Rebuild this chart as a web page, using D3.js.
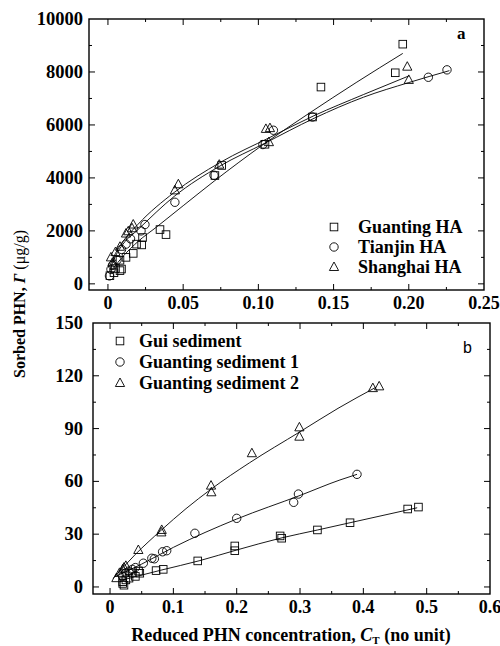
<!DOCTYPE html>
<html>
<head>
<meta charset="utf-8">
<script src="https://cdn.jsdelivr.net/npm/d3@7"></script>
<style>
  body { margin: 0; background: #fff; }
  text { font-family: "Liberation Serif", "DejaVu Serif", serif; }
</style>
</head>
<body>
<svg id="chart" width="500" height="646"></svg>
<script>
// ---- panel a : humic acids ----
var guantingHA = [[0.0013,310],[0.004,420],[0.005,580],[0.008,500],[0.009,560],[0.008,890],[0.012,1000],
                  [0.0168,1150],[0.019,1500],[0.0224,1470],[0.023,1750],[0.0346,2050],[0.0386,1860],
                  [0.0711,4090],[0.0756,4470],[0.1044,5270],[0.136,6300],[0.1416,7430],[0.191,7970],[0.196,9050]];
var tianjinHA  = [[0.001,300],[0.002,550],[0.003,700],[0.006,900],[0.009,1300],[0.012,1500],[0.015,1700],
                  [0.022,2000],[0.0246,2240],[0.0445,3080],[0.0705,4100],[0.103,5260],[0.11,5800],
                  [0.136,6300],[0.213,7800],[0.2254,8080]];
var shanghaiHA = [[0.002,1000],[0.003,800],[0.005,1200],[0.008,1400],[0.012,1900],[0.0135,1985],[0.016,2100],
                  [0.0168,2240],[0.0445,3530],[0.0468,3760],[0.074,4500],[0.105,5850],[0.1077,5880],
                  [0.107,5350],[0.199,8200],[0.2,7700]];
var guantingHAFit = [[0.003,550],[0.0102,1050],[0.02,1600],[0.0324,2150],[0.05,2950],[0.0711,3900],
                     [0.103,5250],[0.134,6450],[0.165,7600],[0.196,8700]];
var tianjinHAFit  = [[0.001,500],[0.005,1050],[0.01,1500],[0.02,2050],[0.044,3300],[0.0745,4450],
                     [0.104,5300],[0.137,6250],[0.17,7050],[0.2,7600],[0.227,8050]];
var shanghaiHAFit = [[0.001,650],[0.005,1150],[0.01,1600],[0.02,2250],[0.044,3450],[0.0745,4580],
                     [0.1077,5530],[0.137,6350],[0.17,7150],[0.2,7850]];

// ---- panel b : sediments ----
var guiSed   = [[0.02,2],[0.02,3],[0.022,1],[0.025,4],[0.03,5],[0.035,8],[0.04,6],[0.045,9],[0.047,7.8],
                [0.0727,9.3],[0.084,10],[0.1385,14.8],[0.197,20.6],[0.197,23.3],[0.2686,29],[0.271,27.7],
                [0.3275,32.4],[0.379,36.5],[0.47,44.3],[0.487,45.4]];
var guantSed1 = [[0.02,6],[0.025,8],[0.03,9],[0.035,10],[0.04,11],[0.0526,13.5],[0.066,16.3],[0.07,16],
                 [0.083,20],[0.0895,20.6],[0.134,30.5],[0.2,39],[0.29,48.1],[0.2975,52.8],[0.39,64]];
var guantSed2 = [[0.01,5],[0.015,8],[0.02,10],[0.022,11],[0.025,12],[0.0447,21],[0.081,31],[0.0816,32.4],
                 [0.1595,57.6],[0.16,53.8],[0.224,76],[0.299,85.4],[0.299,90.7],[0.415,113],[0.425,114]];
var guiSedFit   = [[0.02,4],[0.08,9.5],[0.142,15],[0.2,21],[0.27,27.8],[0.328,32.4],[0.379,36.5],[0.485,45]];
var guantSed1Fit = [[0.008,5.9],[0.05,13],[0.1,22.5],[0.2,38.6],[0.3,52],[0.363,60.8],[0.39,64]];
var guantSed2Fit = [[0.005,4.9],[0.04,18.5],[0.08,32],[0.12,44.5],[0.16,55.7],[0.22,70.5],[0.3,88.2],
                    [0.36,101.5],[0.42,113.5]];

var xTicksA = [0, 0.05, 0.10, 0.15, 0.20, 0.25];
var xLabelsA = ["0", "0.05", "0.10", "0.15", "0.20", "0.25"];
var yTicksA = [0, 2000, 4000, 6000, 8000, 10000];
var xTicksB = [0, 0.1, 0.2, 0.3, 0.4, 0.5, 0.6];
var yTicksB = [0, 30, 60, 90, 120, 150];

var legendA = ["Guanting HA", "Tianjin HA", "Shanghai HA"];
var legendB = ["Gui sediment", "Guanting sediment 1", "Guanting sediment 2"];

var svg = d3.select("#chart");

function marker(g, type, x, y){
    if( type == 0 ){
        g.append("rect").attr("x", x-3.8).attr("y", y-3.8).attr("width", 7.6).attr("height", 7.6)
            .attr("fill", "none").attr("stroke", "#000").attr("stroke-width", 0.9);
    }
    else if( type == 1 ){
        g.append("circle").attr("cx", x).attr("cy", y).attr("r", 4.2)
            .attr("fill", "none").attr("stroke", "#000").attr("stroke-width", 0.9);
    }
    else{
        g.append("path").attr("d", "M" + x + "," + (y-5) + "L" + (x+4.6) + "," + (y+3.5) + "L" + (x-4.6) + "," + (y+3.5) + "Z")
            .attr("fill", "none").attr("stroke", "#000").attr("stroke-width", 0.9);
    }
}

function panel(opt){
    var x = d3.scaleLinear().domain(opt.xDom).range([opt.left, opt.right]);
    var y = d3.scaleLinear().domain(opt.yDom).range([opt.bottom, opt.top]);
    var g = svg.append("g");

    g.append("rect").attr("x", opt.left).attr("y", opt.top)
        .attr("width", opt.right - opt.left).attr("height", opt.bottom - opt.top)
        .attr("fill", "none").attr("stroke", "#000").attr("stroke-width", 1.4);

    // inward ticks, major + minor
    var xMinor = d3.range(0, opt.xTicks.length*2 - 1).map(function(i){ return opt.xTicks[0] + i*(opt.xTicks[1]-opt.xTicks[0])/2; });
    var yMinor = d3.range(0, opt.yTicks.length*2 - 1).map(function(i){ return opt.yTicks[0] + i*(opt.yTicks[1]-opt.yTicks[0])/2; });
    xMinor.forEach(function(v, i){
        var len = i % 2 == 0 ? 6 : 3;
        if( x(v) <= opt.left + 1 || x(v) >= opt.right - 1 ) return;
        g.append("line").attr("x1", x(v)).attr("x2", x(v)).attr("y1", opt.bottom).attr("y2", opt.bottom - len).attr("stroke", "#000");
        g.append("line").attr("x1", x(v)).attr("x2", x(v)).attr("y1", opt.top).attr("y2", opt.top + len).attr("stroke", "#000");
    });
    yMinor.forEach(function(v, i){
        var len = i % 2 == 0 ? 6 : 3;
        if( y(v) <= opt.top + 1 ) return;
        g.append("line").attr("x1", opt.left).attr("x2", opt.left + len).attr("y1", y(v)).attr("y2", y(v)).attr("stroke", "#000");
        g.append("line").attr("x1", opt.right).attr("x2", opt.right - len).attr("y1", y(v)).attr("y2", y(v)).attr("stroke", "#000");
    });

    opt.xTicks.forEach(function(v, i){
        g.append("text").attr("x", x(v)).attr("y", opt.bottom + 19).attr("text-anchor", "middle")
            .attr("font-size", 18).attr("font-weight", "bold").text(opt.xLabels[i]);
    });
    opt.yTicks.forEach(function(v){
        g.append("text").attr("x", opt.labRight).attr("y", y(v) + 6).attr("text-anchor", "end")
            .attr("font-size", 18.5).attr("font-weight", "bold").text(v);
    });

    var line = d3.line().curve(d3.curveMonotoneX).x(function(d){ return x(d[0]); }).y(function(d){ return y(d[1]); });
    opt.fits.forEach(function(f){
        g.append("path").datum(f).attr("d", line).attr("fill", "none").attr("stroke", "#000").attr("stroke-width", 0.9);
    });
    opt.series.forEach(function(s, k){
        s.forEach(function(d){ marker(g, k, x(d[0]), y(d[1])); });
    });

    // legend
    opt.legend.forEach(function(name, k){
        var ly = opt.legY + k*opt.legStep;
        marker(g, k, opt.legX, ly);
        g.append("text").attr("x", opt.legX + opt.legGap).attr("y", ly + 6).attr("font-size", 18)
            .attr("font-weight", "bold").text(name);
    });
    g.append("text").attr("x", opt.tagX).attr("y", opt.tagY).attr("font-size", opt.tagBold ? 17 : 16)
        .attr("font-weight", opt.tagBold ? "bold" : "normal")
        .style("font-family", opt.tagBold ? null : "'Liberation Sans', sans-serif").text(opt.tag);
}

panel({ left: 89, right: 484, top: 19, bottom: 290, labRight: 83,
        xDom: [-0.0126, 0.25], yDom: [-232, 10000],
        xTicks: xTicksA, xLabels: xLabelsA, yTicks: yTicksA,
        series: [guantingHA, tianjinHA, shanghaiHA],
        fits: [guantingHAFit, tianjinHAFit, shanghaiHAFit],
        legend: legendA, legX: 334, legY: 227, legStep: 20, legGap: 24,
        tag: "a", tagX: 457, tagY: 39, tagBold: true });

panel({ left: 93, right: 490, top: 323, bottom: 594, labRight: 83,
        xDom: [-0.0269, 0.6], yDom: [-4, 150],
        xTicks: xTicksB, xLabels: xTicksB.map(String), yTicks: yTicksB,
        series: [guiSed, guantSed1, guantSed2],
        fits: [guiSedFit, guantSed1Fit, guantSed2Fit],
        legend: legendB, legX: 120, legY: 341, legStep: 21, legGap: 19,
        tag: "b", tagX: 463, tagY: 353, tagBold: false });

// axis titles
var yt = svg.append("text").attr("transform", "translate(25,304) rotate(-90)")
    .attr("text-anchor", "middle").attr("font-size", 16).attr("font-weight", "bold");
yt.append("tspan").text("Sorbed PHN, ");
yt.append("tspan").attr("font-style", "italic").text("Γ");
yt.append("tspan").attr("font-weight", "normal").text(" (μg/g)");

var xt = svg.append("text").attr("x", 291).attr("y", 641)
    .attr("text-anchor", "middle").attr("font-size", 18).attr("font-weight", "bold");
xt.append("tspan").text("Reduced PHN concentration, ");
xt.append("tspan").attr("font-style", "italic").text("C");
xt.append("tspan").attr("font-size", 11).attr("dy", 3).text("T");
xt.append("tspan").attr("dy", -3).text(" (no unit)");
</script>
</body>
</html>
